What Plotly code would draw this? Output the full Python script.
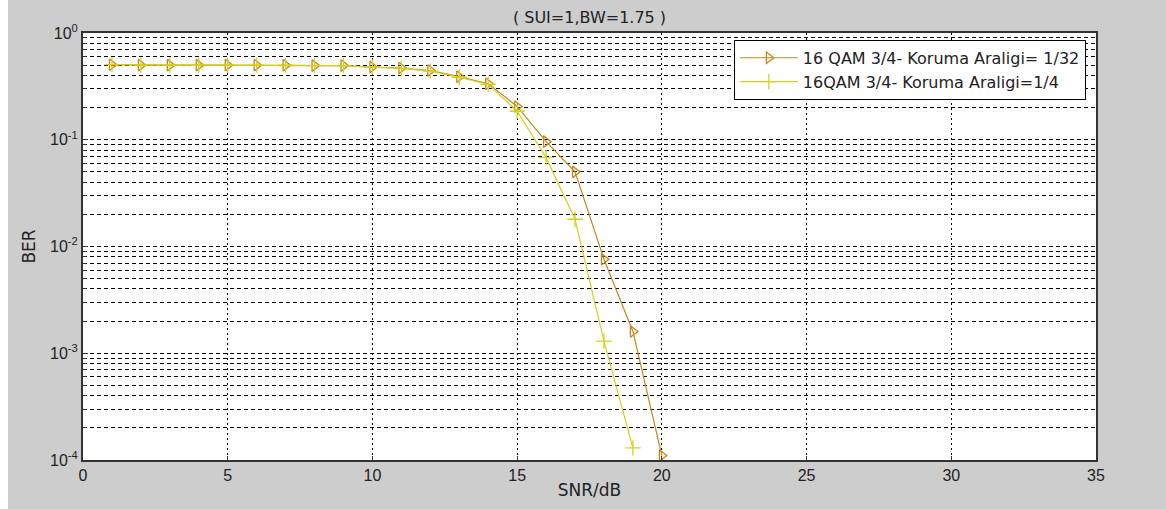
import plotly.graph_objects as go

snr1 = [1, 2, 3, 4, 5, 6, 7, 8, 9, 10, 11, 12, 13, 14, 15, 16, 17, 18, 19, 20]
ber1 = [0.505, 0.50, 0.50, 0.50, 0.50, 0.50, 0.50, 0.495, 0.495, 0.48, 0.47, 0.445, 0.39, 0.335,
        0.205, 0.096, 0.050, 0.0076, 0.0016, 0.00011]
snr2 = [1, 2, 3, 4, 5, 6, 7, 8, 9, 10, 11, 12, 13, 14, 15, 16, 17, 18, 19]
ber2 = [0.505, 0.50, 0.50, 0.50, 0.50, 0.50, 0.50, 0.495, 0.495, 0.48, 0.465, 0.44, 0.385, 0.33,
        0.185, 0.068, 0.018, 0.0013, 0.00013]
name1 = "16 QAM 3/4- Koruma Araligi= 1/32"
name2 = "16QAM 3/4- Koruma Araligi=1/4"
title = "( SUI=1,BW=1.75 )"
ytickvals = [1e-4, 1e-3, 1e-2, 1e-1, 1]
yticktext = ["10<sup>-4</sup>", "10<sup>-3</sup>", "10<sup>-2</sup>", "10<sup>-1</sup>", "10<sup>0</sup>"]

c1 = "#c8861a"
c2 = "#d2d21e"

fig = go.Figure()
fig.add_trace(go.Scatter(x=snr1, y=ber1, name=name1, mode="lines+markers",
                         line=dict(color=c1, width=1.2),
                         marker=dict(symbol="triangle-right-open", size=10, color=c1,
                                     line=dict(width=1.3, color=c1))))
fig.add_trace(go.Scatter(x=snr2, y=ber2, name=name2, mode="lines+markers",
                         line=dict(color=c2, width=1.2),
                         marker=dict(symbol="cross-thin-open", size=11, color=c2,
                                     line=dict(width=1.3, color=c2))))

W, H = 1166, 509
L, R, T, B = 83, 70, 33, 44
pw, ph = W - L - R, H - T - B

fig.add_shape(type="rect", xref="paper", yref="paper",
              x0=(0 - L) / pw - 0.01, x1=(8 - L) / pw,
              y0=-B / ph - 0.02, y1=(H - B) / ph + 0.02,
              fillcolor="white", line=dict(width=0), layer="above")

sans = "DejaVu Sans, Verdana, sans-serif"
tickf = "Liberation Sans, Arial, sans-serif"
fig.update_layout(
    width=W, height=H,
    margin=dict(l=L, r=R, t=T, b=B),
    paper_bgcolor="#cdcdcd",
    plot_bgcolor="white",
    font=dict(family=sans, size=14, color="#222"),
    title=dict(text=title, x=(1096 + 83) / 2 / W, xanchor="center", y=1 - 17 / H, yanchor="middle",
               font=dict(family=sans, size=16, color="#222")),
    showlegend=True,
    legend=dict(x=0.99, xanchor="right", y=0.984, yanchor="top",
                bgcolor="white", bordercolor="black", borderwidth=1,
                font=dict(family=sans, size=16, color="#222"), tracegroupgap=0,
                itemwidth=58),
    xaxis=dict(range=[0, 35], dtick=5, tick0=0, showgrid=True, gridcolor="black",
               griddash="2px,3px", gridwidth=1, showline=True, linecolor="#333", linewidth=2,
               mirror=True, ticks="inside", ticklen=4, tickcolor="#333", zeroline=False,
               title=dict(text="SNR/dB", standoff=1, font=dict(family=sans, size=17)),
               tickfont=dict(family=tickf, size=16)),
    yaxis=dict(type="log", range=[-4, 0], tickvals=ytickvals, ticktext=yticktext,
               showgrid=True, gridcolor="black", griddash="4px,3px", gridwidth=1,
               showline=True, linecolor="#333", linewidth=2, mirror=True,
               ticks="inside", ticklen=5, tickcolor="#333", zeroline=False,
               minor=dict(dtick="D1", showgrid=True, gridcolor="black", griddash="4px,3px",
                          gridwidth=1, ticks="inside", ticklen=3, tickcolor="#333"),
               title=dict(text="BER", standoff=10, font=dict(family=sans, size=17)),
               tickfont=dict(family=tickf, size=16)),
)

fig.write_html("out.html")
